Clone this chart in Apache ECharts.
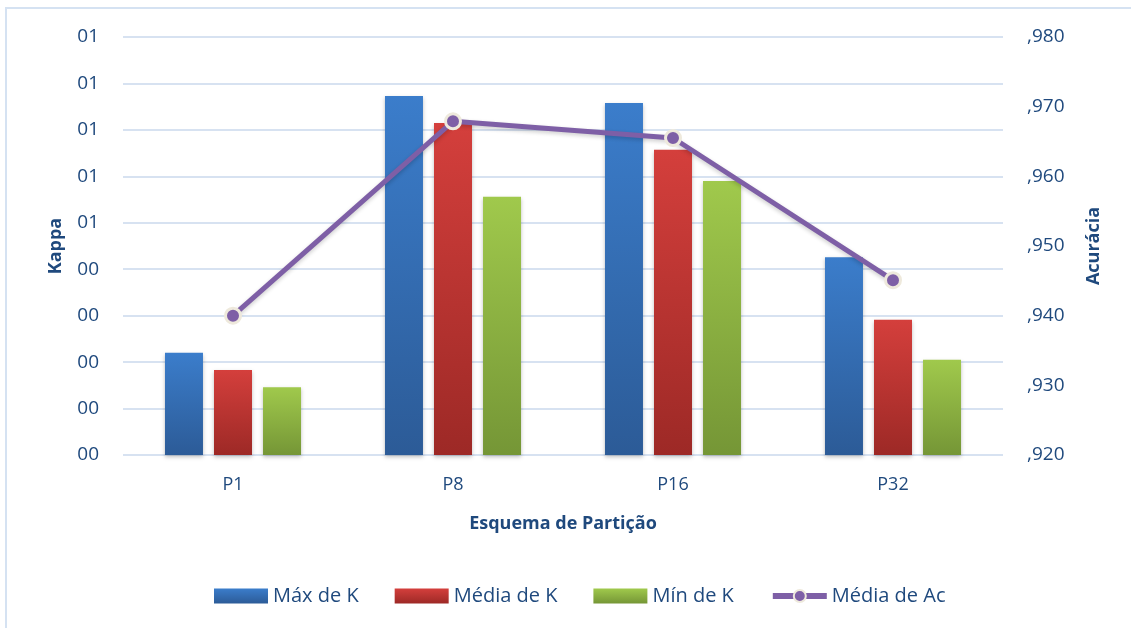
<!DOCTYPE html>
<html>
<head>
<meta charset="utf-8">
<script src="https://cdn.jsdelivr.net/npm/echarts@6/dist/echarts.min.js"></script>
<style>
  html, body { margin: 0; padding: 0; background: #fff; }
  #chart { width: 1131px; height: 628px; }
  #frame { position: absolute; left: 5px; top: 7px; width: 1140px; height: 640px; border: 2px solid #d5e2f2; box-sizing: border-box; pointer-events: none; }
</style>
</head>
<body>
<div id="chart"></div>
<div id="frame"></div>
<script>
// dados
var categorias = ['P1', 'P8', 'P16', 'P32'];
var maxK   = [0.220, 0.773, 0.758, 0.426];
var mediaK = [0.183, 0.715, 0.657, 0.291];
var minK   = [0.146, 0.556, 0.590, 0.205];
var mediaAc = [0.9400, 0.9679, 0.9655, 0.9451];

var corTexto = '#1f497d';
var fonte = '"Open Sans", "Noto Sans", sans-serif';

function grad(top, bottom) {
    return new echarts.graphic.LinearGradient(0, 0, 0, 1, [
        { offset: 0, color: top },
        { offset: 1, color: bottom }
    ]);
}

// formato "00" do eixo Kappa
function fmtKappa(v) {
    var n = Math.round(v);
    return (n < 10 ? '0' : '') + n;
}

var chart = echarts.init(document.getElementById('chart'));
var option = {
    backgroundColor: '#fff',
    animation: false,
    textStyle: { fontFamily: fonte },
    grid: { left: 123, right: 128, top: 37, bottom: 173 },
    legend: {
        bottom: 17,
        left: 209,
        itemWidth: 54,
        itemHeight: 15,
        itemGap: 36,
        textStyle: { color: corTexto, fontSize: 20, fontFamily: fonte },
        data: [
            { name: 'Máx de K', icon: 'rect' },
            { name: 'Média de K', icon: 'rect' },
            { name: 'Mín de K', icon: 'rect' },
            { name: 'Média de Ac', lineStyle: { width: 6 } }
        ]
    },
    xAxis: {
        type: 'category',
        data: categorias,
        name: 'Esquema de Partição',
        nameLocation: 'middle',
        nameGap: 60,
        nameTextStyle: { color: corTexto, fontSize: 18, fontWeight: 'bold', fontFamily: fonte },
        axisLine: { show: false },
        axisTick: { show: false },
        axisLabel: { color: corTexto, fontSize: 18, margin: 21 }
    },
    yAxis: [
        {
            type: 'value',
            min: 0,
            max: 0.9,
            interval: 0.1,
            name: 'Kappa',
            nameLocation: 'middle',
            nameGap: 58,
            nameTextStyle: { color: corTexto, fontSize: 18, fontWeight: 'bold', fontFamily: fonte },
            axisLine: { show: false },
            axisTick: { show: false },
            axisLabel: { color: corTexto, fontSize: 19, margin: 24, formatter: fmtKappa },
            splitLine: { lineStyle: { color: '#d7e2f1', width: 2 } }
        },
        {
            type: 'value',
            min: 0.92,
            max: 0.98,
            interval: 0.01,
            name: 'Acurácia',
            nameLocation: 'middle',
            nameGap: 82,
            nameRotate: 90,
            nameTextStyle: { color: corTexto, fontSize: 18, fontWeight: 'bold', fontFamily: fonte },
            axisLine: { show: false },
            axisTick: { show: false },
            axisLabel: {
                color: corTexto, fontSize: 19, margin: 24,
                formatter: function (v) { return ',' + Math.round(v * 1000); }
            },
            splitLine: { show: false }
        }
    ],
    series: [
        {
            name: 'Máx de K',
            type: 'bar',
            data: maxK,
            barWidth: 38,
            barGap: '29%',
            itemStyle: { color: grad('#3b7dcb', '#2c5b97'), shadowBlur: 4, shadowColor: 'rgba(0,0,0,0.25)', shadowOffsetY: 2 }
        },
        {
            name: 'Média de K',
            type: 'bar',
            data: mediaK,
            barWidth: 38,
            barGap: '29%',
            itemStyle: { color: grad('#d43f3c', '#9d2926'), shadowBlur: 4, shadowColor: 'rgba(0,0,0,0.25)', shadowOffsetY: 2 }
        },
        {
            name: 'Mín de K',
            type: 'bar',
            data: minK,
            barWidth: 38,
            barGap: '29%',
            itemStyle: { color: grad('#a0c94c', '#759636'), shadowBlur: 4, shadowColor: 'rgba(0,0,0,0.25)', shadowOffsetY: 2 }
        },
        {
            name: 'Média de Ac',
            type: 'line',
            yAxisIndex: 1,
            data: mediaAc,
            symbol: 'circle',
            symbolSize: 15,
            lineStyle: { color: '#7e5fa6', width: 5, shadowBlur: 4, shadowColor: 'rgba(0,0,0,0.2)', shadowOffsetY: 2 },
            itemStyle: { color: '#7e5fa6', borderColor: '#eee9dc', borderWidth: 3 }
        }
    ]
};
chart.setOption(option);
</script>
</body>
</html>
